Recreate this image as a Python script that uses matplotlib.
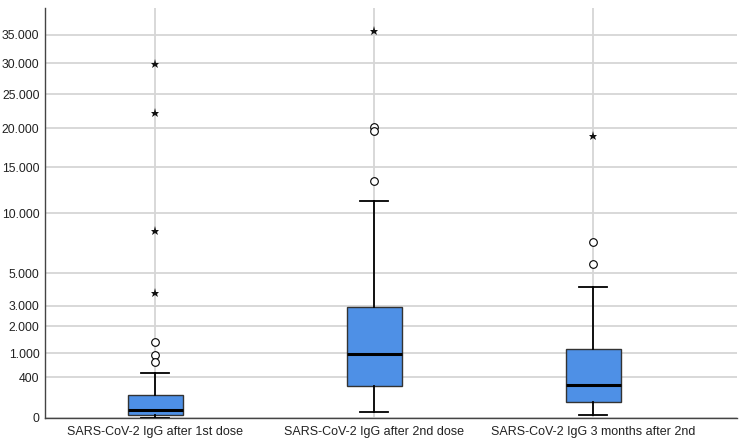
import numpy as np
import matplotlib
matplotlib.use("Agg")
import matplotlib.pyplot as plt

plt.rcParams["font.family"] = ["Liberation Sans", "DejaVu Sans"]

# categories and box statistics
labels = ["SARS-CoV-2 IgG after 1st dose",
          "SARS-CoV-2 IgG after 2nd dose",
          "SARS-CoV-2 IgG 3 months after 2nd"]
whislo = [0, 8, 2]
q1 = [2, 244, 61]
med = [15, 968, 255]
q3 = [126, 2940, 1146]
whishi = [477, 11240, 4095]

# outliers: circles (mild) and stars (extreme)
circles = [[1368, 947, 757], [20250, 19700, 13405], [7417, 5683]]
stars = [[29857, 22156, 8345, 3747], [35744], [19018]]

yticks = [0, 400, 1000, 2000, 3000, 5000, 10000, 15000, 20000, 25000, 30000, 35000]
yticklabels = ["0", "400", "1.000", "2.000", "3.000", "5.000", "10.000",
               "15.000", "20.000", "25.000", "30.000", "35.000"]

fig = plt.figure(figsize=(7.5, 4.45), dpi=100)
ax = fig.add_axes([0.06, 0.0607, 0.9227, 0.9213])

ax.set_yscale("function", functions=(lambda v: np.sqrt(np.clip(v, 0, None)), np.square))

stats = []
for i in range(3):
    stats.append(dict(whislo=whislo[i], q1=q1[i], med=med[i], q3=q3[i],
                      whishi=whishi[i], fliers=[], label=labels[i]))

pos = [1, 2, 3]
ax.bxp(stats, positions=pos, widths=0.25, patch_artist=True, showfliers=False,
       boxprops=dict(facecolor="#4e90e6", edgecolor="#333333", linewidth=1.0),
       medianprops=dict(color="black", linewidth=2.2),
       whiskerprops=dict(color="black", linewidth=1.3),
       capprops=dict(color="black", linewidth=1.3),
       capwidths=0.125, zorder=3)

for i in range(3):
    ax.plot([pos[i]] * len(circles[i]), circles[i], "o", ms=5.5, mfc="white",
            mec="black", mew=0.8, zorder=4)
    ax.plot([pos[i]] * len(stars[i]), stars[i], "*", ms=6.5, color="#111111",
            mew=0, zorder=4)

ax.set_xlim(0.497, 3.657)
ax.set_ylim(0, 40100)
ax.set_yticks(yticks)
ax.set_yticklabels(yticklabels)
ax.set_xticks(pos)
ax.set_xticklabels(labels)

ax.grid(True, color="#d6d6d6", linewidth=1.3, zorder=0)
ax.set_axisbelow(True)
for s in ["top", "right"]:
    ax.spines[s].set_visible(False)
for s in ["left", "bottom"]:
    ax.spines[s].set_color("#444444")
    ax.spines[s].set_linewidth(1.0)
ax.tick_params(axis="both", length=0, colors="#222222")
ax.tick_params(axis="y", pad=4, labelsize=8.8)
ax.tick_params(axis="x", pad=6, labelsize=9)

fig.savefig("out.png", dpi=100)
